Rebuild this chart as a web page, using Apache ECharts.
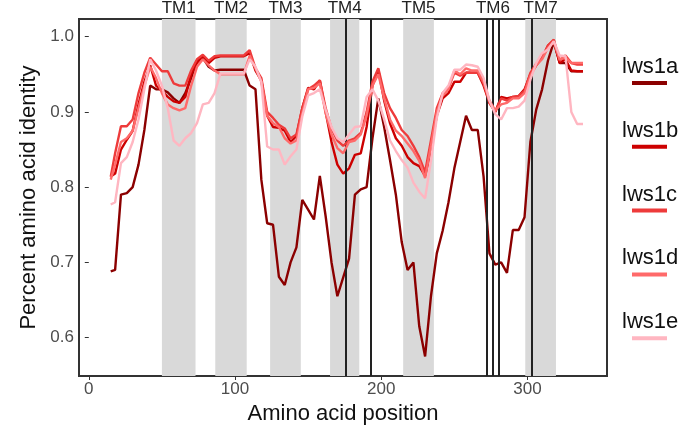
<!DOCTYPE html>
<html>
<head>
<meta charset="utf-8">
<script src="https://cdn.jsdelivr.net/npm/echarts@6/dist/echarts.min.js"></script>
<style>
  html, body { margin: 0; padding: 0; background: #fff; }
  #main { width: 688px; height: 431px; }
</style>
</head>
<body>
<div id="main"></div>
<script>
// sliding window positions (amino acid)
const positions = [15, 18, 22, 26, 30, 34, 38, 42, 46, 50,
  54, 58, 62, 66, 70, 74, 78, 82, 86, 90,
  94, 98, 102, 106, 110, 114, 118, 122, 126, 130,
  134, 138, 142, 146, 150, 154, 158, 162, 166, 170,
  174, 178, 182, 186, 190, 194, 198, 202, 206, 210,
  214, 218, 222, 226, 230, 234, 238, 242, 246, 250,
  254, 258, 262, 266, 270, 274, 278, 282, 286, 290,
  294, 298, 302, 306, 310, 314, 318, 322, 326, 330,
  334, 338]

const lws1a = [0.688, 0.69, 0.79, 0.792, 0.80, 0.83, 0.876, 0.935, 0.93, 0.93,
  0.926, 0.918, 0.912, 0.925, 0.945, 0.968, 0.972, 0.96, 0.955, 0.956,
  0.956, 0.956, 0.956, 0.956, 0.935, 0.93, 0.81, 0.752, 0.75, 0.681,
  0.67, 0.70, 0.72, 0.783, 0.77, 0.757, 0.815, 0.761, 0.70, 0.655,
  0.68, 0.705, 0.79, 0.797, 0.80, 0.865, 0.918, 0.88, 0.836, 0.79,
  0.727, 0.69, 0.70, 0.615, 0.575, 0.655, 0.712, 0.742, 0.78, 0.825,
  0.86, 0.895, 0.876, 0.876, 0.814, 0.712, 0.697, 0.70, 0.686, 0.743,
  0.743, 0.76, 0.86, 0.903, 0.93, 0.968, 0.993, 0.965, 0.965, 0.954,
  0.954, 0.954]

const lws1b = [0.814, 0.818, 0.85, 0.863, 0.875, 0.91, 0.94, 0.962, 0.935, 0.928,
  0.92, 0.914, 0.912, 0.92, 0.95, 0.965, 0.974, 0.965, 0.972, 0.974,
  0.974, 0.974, 0.974, 0.974, 0.978, 0.955, 0.942, 0.895, 0.88, 0.879,
  0.875, 0.86, 0.868, 0.905, 0.932, 0.93, 0.942, 0.90, 0.86, 0.83,
  0.818, 0.825, 0.843, 0.845, 0.88, 0.935, 0.956, 0.915, 0.885, 0.865,
  0.855, 0.84, 0.832, 0.828, 0.815, 0.85, 0.895, 0.918, 0.925, 0.94,
  0.94, 0.952, 0.952, 0.952, 0.935, 0.912, 0.90, 0.92, 0.918, 0.92,
  0.921, 0.93, 0.95, 0.962, 0.972, 0.988, 0.995, 0.965, 0.97, 0.955,
  0.954, 0.954]

const lws1c = [0.814, 0.845, 0.881, 0.881, 0.89, 0.925, 0.952, 0.972, 0.963, 0.954,
  0.954, 0.938, 0.935, 0.935, 0.955, 0.97, 0.976, 0.968, 0.974, 0.975,
  0.975, 0.975, 0.975, 0.975, 0.982, 0.958, 0.945, 0.90, 0.892, 0.883,
  0.878, 0.865, 0.87, 0.905, 0.93, 0.935, 0.942, 0.905, 0.878, 0.862,
  0.855, 0.862, 0.865, 0.872, 0.90, 0.94, 0.958, 0.925, 0.905, 0.892,
  0.876, 0.868, 0.855, 0.84, 0.82, 0.862, 0.905, 0.925, 0.932, 0.952,
  0.948, 0.952, 0.952, 0.952, 0.938, 0.912, 0.90, 0.918, 0.915, 0.92,
  0.921, 0.928, 0.952, 0.964, 0.972, 0.988, 0.996, 0.968, 0.975, 0.965,
  0.963, 0.963]

const lws1d = [0.81, 0.83, 0.86, 0.865, 0.875, 0.905, 0.935, 0.96, 0.945, 0.925,
  0.91, 0.905, 0.902, 0.905, 0.935, 0.96, 0.97, 0.962, 0.955, 0.95,
  0.95, 0.95, 0.95, 0.95, 0.975, 0.958, 0.94, 0.895, 0.885, 0.88,
  0.865, 0.858, 0.862, 0.898, 0.93, 0.932, 0.938, 0.898, 0.87, 0.852,
  0.845, 0.86, 0.862, 0.87, 0.895, 0.935, 0.95, 0.918, 0.89, 0.875,
  0.868, 0.858, 0.848, 0.835, 0.812, 0.855, 0.90, 0.922, 0.93, 0.955,
  0.95, 0.958, 0.955, 0.955, 0.94, 0.915, 0.902, 0.91, 0.912, 0.918,
  0.918, 0.925, 0.948, 0.962, 0.97, 0.985, 0.993, 0.97, 0.972, 0.965,
  0.965, 0.965]

const lws1e = [0.777, 0.78, 0.832, 0.84, 0.86, 0.89, 0.93, 0.97, 0.955, 0.935,
  0.905, 0.862, 0.855, 0.865, 0.872, 0.885, 0.91, 0.912, 0.925, 0.951,
  0.951, 0.951, 0.951, 0.951, 0.97, 0.96, 0.94, 0.854, 0.85, 0.85,
  0.83, 0.841, 0.85, 0.894, 0.922, 0.925, 0.93, 0.903, 0.88, 0.865,
  0.86, 0.87, 0.88, 0.881, 0.92, 0.93, 0.915, 0.89, 0.862, 0.848,
  0.836, 0.826, 0.806, 0.794, 0.785, 0.835, 0.892, 0.925, 0.935, 0.956,
  0.956, 0.963, 0.962, 0.96, 0.945, 0.915, 0.897, 0.89, 0.905, 0.905,
  0.907, 0.915, 0.943, 0.965, 0.978, 0.983, 0.994, 0.975, 0.974, 0.9,
  0.884, 0.884]

const seriesNames = ['lws1a', 'lws1b', 'lws1c', 'lws1d', 'lws1e']
const seriesValues = [lws1a, lws1b, lws1c, lws1d, lws1e]
const seriesColors = ['#8b0000', '#cd0000', '#ee3b3b', '#ff6a6a', '#ffb6c1']

// transmembrane regions (grey bands) and labels
const tmNames = ['TM1', 'TM2', 'TM3', 'TM4', 'TM5', 'TM6', 'TM7']
const tmStart = [50, 86.5, 124, 165, 215, 272.3, 298.5]
const tmEnd = [73, 108, 145, 185, 236, 280.5, 319.5]
const tmShaded = [true, true, true, true, true, false, true]
// black vertical marker lines
const markerLines = [175.6, 192.6, 272.3, 276.2, 280.5, 303.2]

const xTicks = [0, 100, 200, 300]
const yTicks = [0.6, 0.7, 0.8, 0.9, 1.0]

const FONT = 'Liberation Sans, Arial, sans-serif'
const chart = echarts.init(document.getElementById('main'))

const lineSeries = seriesNames.map((name, k) => ({
  name,
  type: 'line',
  z: 3 + k,
  symbol: 'none',
  silent: true,
  lineStyle: { color: seriesColors[k], width: 2.4 },
  data: positions.map((p, i) => [p, seriesValues[k][i]])
}))

const bands = tmNames.map((n, i) => [
  {
    name: n,
    xAxis: tmStart[i],
    itemStyle: { color: tmShaded[i] ? '#d9d9d9' : 'rgba(0,0,0,0)' }
  },
  { xAxis: tmEnd[i] }
])

// legend drawn by hand: name above a short coloured bar
const legendGraphics = []
seriesNames.forEach((name, k) => {
  const cy = 68 + k * 63.8
  legendGraphics.push({
    type: 'text',
    left: 622,
    top: cy - 12,
    style: { text: name, font: '22px ' + FONT, fill: '#111' }
  })
  legendGraphics.push({
    type: 'rect',
    shape: { x: 632, y: cy + 13, width: 35, height: 4 },
    style: { fill: seriesColors[k] }
  })
})

const option = {
  animation: false,
  backgroundColor: '#fff',
  grid: {
    left: 79, right: 81, top: 19, bottom: 55,
    show: true,
    borderColor: '#333',
    borderWidth: 2,
    backgroundColor: 'transparent'
  },
  xAxis: {
    type: 'value',
    min: -6.7,
    max: 354.4,
    name: 'Amino acid position',
    nameLocation: 'middle',
    nameGap: 24,
    nameTextStyle: { fontSize: 22, color: '#111', fontFamily: FONT },
    axisLine: { show: false },
    splitLine: { show: false },
    axisTick: { show: true, length: 4, lineStyle: { color: '#333' }, customValues: xTicks },
    axisLabel: { fontSize: 17, color: '#4d4d4d', fontFamily: FONT, margin: 5, customValues: xTicks }
  },
  yAxis: {
    type: 'value',
    min: 0.549,
    max: 1.0235,
    name: 'Percent amino acid identity',
    nameLocation: 'middle',
    nameGap: 38,
    nameTextStyle: { fontSize: 22, color: '#111', fontFamily: FONT },
    axisLine: { show: false },
    splitLine: { show: false },
    axisTick: { show: true, length: 4, lineStyle: { color: '#333' }, customValues: yTicks },
    axisLabel: {
      fontSize: 17, color: '#4d4d4d', fontFamily: FONT, margin: 5,
      customValues: yTicks,
      formatter: v => v.toFixed(1)
    }
  },
  graphic: legendGraphics,
  series: [
    {
      type: 'line',
      z: 1,
      data: [],
      silent: true,
      markArea: {
        silent: true,
        label: {
          show: true, position: 'top', distance: 2,
          fontSize: 17, color: '#222', fontFamily: FONT
        },
        data: bands
      }
    },
    ...lineSeries,
    {
      type: 'line',
      z: 20,
      data: [],
      silent: true,
      markLine: {
        silent: true,
        symbol: 'none',
        label: { show: false },
        lineStyle: { color: '#222', width: 2, type: 'solid' },
        data: markerLines.map(x => ({ xAxis: x }))
      }
    }
  ]
}

chart.setOption(option)
</script>
</body>
</html>
